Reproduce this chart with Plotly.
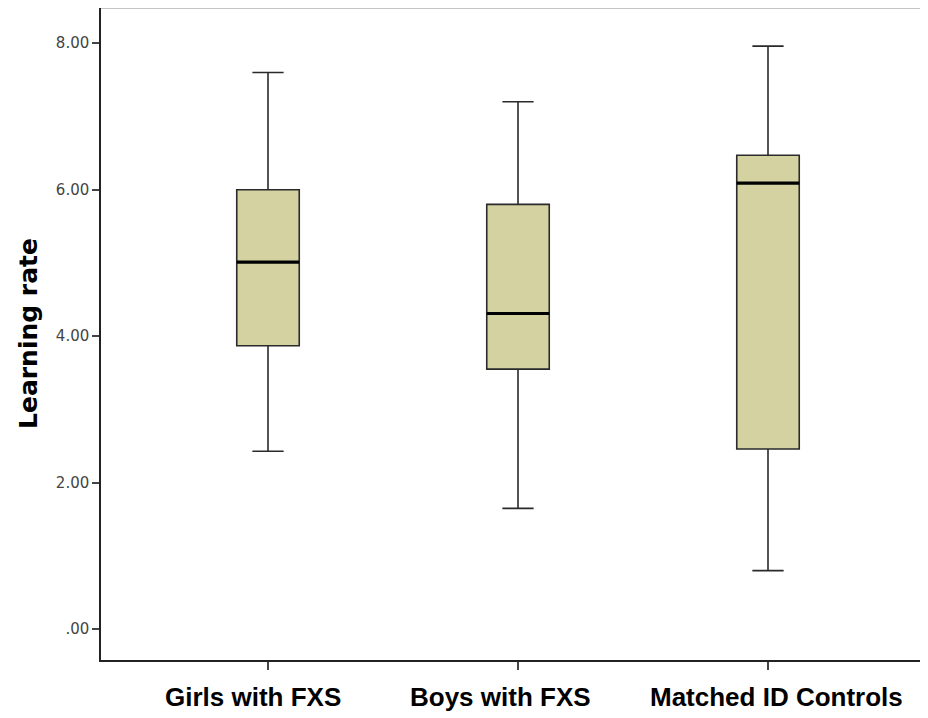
import plotly.graph_objects as go

groups = ["Girls with FXS", "Boys with FXS", "Matched ID Controls"]
upper = [7.60, 7.20, 7.96]
q3 = [6.00, 5.80, 6.47]
median = [5.01, 4.31, 6.09]
q1 = [3.87, 3.55, 2.46]
lower = [2.43, 1.65, 0.80]
ytick_vals = [0, 2, 4, 6, 8]
ytick_text = [".00", "2.00", "4.00", "6.00", "8.00"]

# label horizontal nudges (pixels), as drawn in the original
LABEL_SHIFT = [-15, -18, 8]

BOX_W = 0.25
fig = go.Figure()
for i, g in enumerate(groups):
    fig.add_trace(go.Box(
        x=[i], q1=[q1[i]], median=[median[i]], q3=[q3[i]],
        lowerfence=[lower[i]], upperfence=[upper[i]],
        width=BOX_W, whiskerwidth=0.5,
        fillcolor="rgb(213,210,162)",
        line=dict(color="#2a2a2a", width=1.6),
        name=g, showlegend=False, hoverinfo="skip",
    ))
    fig.add_trace(go.Scatter(
        x=[i - BOX_W / 2, i + BOX_W / 2], y=[median[i], median[i]],
        mode="lines", line=dict(color="black", width=3.2),
        showlegend=False, hoverinfo="skip",
    ))
    fig.add_annotation(
        x=i, y=0, xref="x", yref="paper", yanchor="top", xanchor="center",
        text=f"<b>{g}</b>", showarrow=False, xshift=LABEL_SHIFT[i], yshift=-20,
        font=dict(family="Liberation Sans, Arial, sans-serif", size=26, color="black"),
    )

fig.add_annotation(
    x=0, y=0.5, xref="paper", yref="paper", xanchor="center", yanchor="middle",
    text="<b>Learning rate</b>", textangle=-90, showarrow=False, xshift=-73,
    font=dict(family="DejaVu Sans, sans-serif", size=25, color="black"),
)

fig.add_shape(type="line", xref="paper", yref="paper", x0=0, x1=1, y0=1, y1=1,
              line=dict(color="#c4c4c4", width=2))

fig.update_layout(
    width=928, height=718,
    margin=dict(l=93, r=0, t=0, b=66),
    plot_bgcolor="white", paper_bgcolor="white",
    font=dict(family="Liberation Sans, Arial, sans-serif", color="black"),
    xaxis=dict(
        range=[-0.668, 2.672], tickvals=list(range(len(groups))), ticktext=["", "", ""],
        showgrid=False, zeroline=False, showline=True, linecolor="#222", linewidth=1.5,
        ticks="outside", ticklen=8, tickcolor="#444", tickwidth=1.5,
    ),
    yaxis=dict(
        range=[-0.42, 8.48], tickvals=ytick_vals, ticktext=ytick_text,
        showgrid=False, zeroline=False, showline=True, linecolor="#222", linewidth=1.5,
        ticks="outside", ticklen=7, tickcolor="#444", tickwidth=1.5,
        tickfont=dict(family="DejaVu Sans, sans-serif", size=15, color="#444"),
    ),
)

fig.write_html("out.html")
